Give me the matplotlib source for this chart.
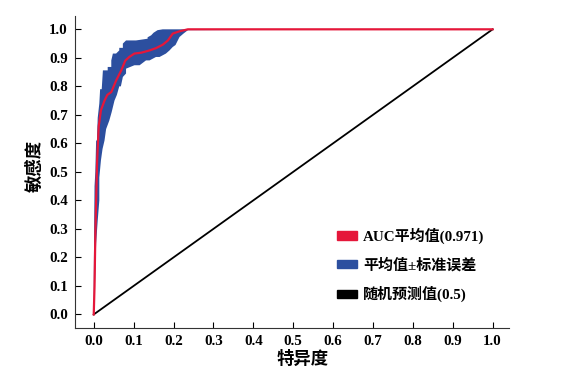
import numpy as np
import matplotlib
matplotlib.use('Agg')
import matplotlib.pyplot as plt
from matplotlib.patches import Patch

plt.rcParams['font.family'] = ['Liberation Serif', 'Noto Sans CJK SC']
plt.rcParams['font.weight'] = 'bold'

# mean ROC curve (1 - specificity, sensitivity)
mean_x = [0.0, 0.002, 0.004, 0.006, 0.0085, 0.0125, 0.018, 0.027, 0.034, 0.044, 0.056,
          0.069, 0.079, 0.089, 0.102, 0.119, 0.140, 0.156, 0.173, 0.186, 0.198,
          0.215, 0.236, 1.0]
mean_y = [0.0, 0.10, 0.28, 0.40, 0.54, 0.66, 0.716, 0.75, 0.77, 0.78, 0.82,
          0.856, 0.89, 0.903, 0.915, 0.918, 0.926, 0.934, 0.946, 0.961, 0.985,
          0.993, 1.0, 1.0]

# upper edge of the mean +/- SE band (stepped)
up_x = [0.0, 0.0, 0.001, 0.002, 0.004, 0.006, 0.008, 0.010, 0.014, 0.016, 0.020,
        0.023, 0.035, 0.035, 0.044, 0.044, 0.048, 0.056, 0.064, 0.064, 0.073,
        0.073, 0.081, 0.106, 0.135, 0.135, 0.144, 0.150, 0.160, 0.173, 1.0]
up_y = [0.0, 0.10, 0.30, 0.45, 0.50, 0.61, 0.61, 0.69, 0.74, 0.79, 0.79,
        0.856, 0.856, 0.868, 0.868, 0.891, 0.915, 0.915, 0.926, 0.935, 0.935,
        0.95, 0.961, 0.961, 0.967, 0.972, 0.979, 0.988, 0.997, 1.0, 1.0]

# lower edge of the band (stepped)
lo_x = [0.003, 0.006, 0.010, 0.014, 0.014, 0.018, 0.022, 0.027, 0.031, 0.039,
        0.045, 0.052, 0.058, 0.064, 0.068, 0.073, 0.081, 0.081, 0.102, 0.115,
        0.131, 0.140, 0.156, 0.165, 0.181, 0.190, 0.198, 0.205, 0.215, 0.225,
        0.236, 1.0]
lo_y = [0.10, 0.25, 0.33, 0.40, 0.48, 0.54, 0.58, 0.61, 0.65, 0.68,
        0.71, 0.75, 0.77, 0.80, 0.80, 0.833, 0.845, 0.862, 0.874, 0.874,
        0.891, 0.891, 0.903, 0.903, 0.915, 0.926, 0.938, 0.945, 0.973, 0.985,
        0.997, 1.0]

chance = [0.0, 1.0]
ticks = [0.0, 0.1, 0.2, 0.3, 0.4, 0.5, 0.6, 0.7, 0.8, 0.9, 1.0]

red = '#e5173a'
blue = '#2c4f9f'

fig = plt.figure(figsize=(5.66, 3.79), dpi=100)
ax = fig.add_axes([0.1325, 0.135, 0.766, 0.823])

band_x = np.concatenate([up_x, lo_x[::-1]])
band_y = np.concatenate([up_y, lo_y[::-1]])
ax.fill(band_x, band_y, color=blue, lw=0)
ax.plot(chance, chance, color='black', lw=1.3)
ax.plot(mean_x, mean_y, color=red, lw=1.6)

ax.set_xlim(-0.047, 1.04)
ax.set_ylim(-0.047, 1.047)
ax.set_xticks(ticks)
ax.set_yticks(ticks)
ax.set_xticklabels(['%.1f' % t for t in ticks])
ax.set_yticklabels(['%.1f' % t for t in ticks])
ax.tick_params(direction='in', length=4, width=0.8, labelsize=10.8, pad=5)
for s in ['top', 'right']:
    ax.spines[s].set_visible(False)
for s in ['left', 'bottom']:
    ax.spines[s].set_linewidth(0.8)
    ax.spines[s].set_color('#333333')

ax.set_xlabel('特异度', fontsize=12.5, fontweight='bold')
ax.set_ylabel('敏感度', fontsize=12.5, fontweight='bold')
ax.xaxis.set_label_coords(0.525, -0.10)
ax.yaxis.set_label_coords(-0.092, 0.519)
ax.xaxis.label.set_va('center')
ax.yaxis.label.set_va('center')

handles = [Patch(color=red), Patch(color=blue), Patch(color='black')]
labels = ['AUC平均值(0.971)', '平均值±标准误差', '随机预测值(0.5)']
fig.legend(handles, labels, loc='upper left', bbox_to_anchor=(0.595, 0.40),
           bbox_transform=fig.transFigure, frameon=False, fontsize=10.8,
           borderpad=0, borderaxespad=0, handlelength=1.35, handleheight=0.5,
           labelspacing=0.92, handletextpad=0.4)

fig.savefig('out.png', dpi=100)
